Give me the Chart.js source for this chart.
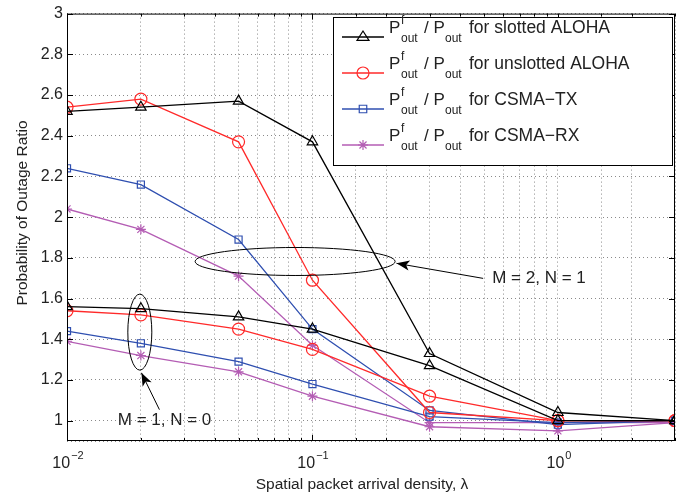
<!DOCTYPE html>
<html>
<head>
<meta charset="utf-8">
<script src="https://cdn.jsdelivr.net/npm/chart.js@4.4.1/dist/chart.umd.min.js"></script>
<style>
  html, body { margin: 0; padding: 0; background: #fff; }
</style>
</head>
<body>
<canvas id="outageChart" width="676" height="495"></canvas>
<script>
// ── Data ─────────────────────────────────────────
const lambda = [0.01, 0.02, 0.05, 0.1, 0.3, 1, 3];

// M = 2, N = 1
const slottedM2   = [2.52, 2.54, 2.57, 2.37, 1.33, 1.04, 1.00];
const unslottedM2 = [2.54, 2.58, 2.37, 1.69, 1.04, 1.00, 1.00];
const csmaTxM2    = [2.24, 2.16, 1.89, 1.45, 1.05, 0.98, 1.00];
const csmaRxM2    = [2.04, 1.94, 1.71, 1.37, 0.99, 0.99, 0.99];

// M = 1, N = 0
const slottedM1   = [1.56, 1.55, 1.51, 1.45, 1.27, 1.00, 1.00];
const unslottedM1 = [1.54, 1.52, 1.45, 1.35, 1.12, 1.00, 1.00];
const csmaTxM1    = [1.44, 1.38, 1.29, 1.18, 1.02, 0.99, 1.00];
const csmaRxM1    = [1.39, 1.32, 1.24, 1.12, 0.97, 0.95, 0.99];

const legendNames = ['slotted ALOHA', 'unslotted ALOHA', 'CSMA\u2212TX', 'CSMA\u2212RX'];
const yTicks = [1, 1.2, 1.4, 1.6, 1.8, 2, 2.2, 2.4, 2.6, 2.8, 3];

const FONT = "'Liberation Sans', Arial, Helvetica, sans-serif";

const STYLE = [
  { color: '#000000', marker: 'triangle', r: 6 },
  { color: '#ff2a2a', marker: 'circle',   r: 6 },
  { color: '#2f4fb0', marker: 'rect',     r: 5 },
  { color: '#b45db4', marker: 'star',     r: 5 },
];

const series = [
  [slottedM2, slottedM1],
  [unslottedM2, unslottedM1],
  [csmaTxM2, csmaTxM1],
  [csmaRxM2, csmaRxM1],
];

const toPoints = (vals) => lambda.map((l, i) => ({ x: l, y: vals[i] }));

const datasets = [];
series.forEach((pair, k) => {
  pair.forEach((vals) => {
    datasets.push({
      data: toPoints(vals),
      borderColor: STYLE[k].color,
      backgroundColor: 'transparent',
      borderWidth: 1.3,
      pointStyle: STYLE[k].marker,
      pointRadius: STYLE[k].r,
      pointBorderWidth: 1.2,
      pointBorderColor: STYLE[k].color,
      pointBackgroundColor: 'transparent',
      tension: 0,
    });
  });
});

// ── Annotations (positions in data units) ────────
const notes = [
  { ellipse: { x: 0.085, y: 1.782, rx: 100, ry: 14 },
    arrow: { from: [0.496, 1.699], to: [0.220, 1.773] },
    text: { x: 0.540, y: 1.675, label: 'M = 2, N = 1' } },
  { ellipse: { x: 0.0198, y: 1.435, rx: 12, ry: 38 },
    arrow: { from: [0.0238, 1.054], to: [0.0201, 1.235] },
    text: { x: 0.0161, y: 0.978, label: 'M = 1, N = 0' } },
];

// ── Helpers ──────────────────────────────────────
const drawMarker = (ctx, type, x, y, r, color) => {
  ctx.save();
  ctx.strokeStyle = color;
  ctx.lineWidth = 1.2;
  ctx.beginPath();
  if (type === 'triangle') {
    ctx.moveTo(x, y - r);
    ctx.lineTo(x - r, y + r * 0.55);
    ctx.lineTo(x + r, y + r * 0.55);
    ctx.closePath();
  } else if (type === 'circle') {
    ctx.arc(x, y, r, 0, Math.PI * 2);
  } else if (type === 'rect') {
    const s = r * 0.75;
    ctx.rect(x - s, y - s, s * 2, s * 2);
  } else if (type === 'star') {
    for (let a = 0; a < 4; a++) {
      const ang = a * Math.PI / 4;
      ctx.moveTo(x - Math.cos(ang) * r, y - Math.sin(ang) * r);
      ctx.lineTo(x + Math.cos(ang) * r, y + Math.sin(ang) * r);
    }
  }
  ctx.stroke();
  ctx.restore();
};

const seg = (ctx, x1, y1, x2, y2) => {
  ctx.beginPath(); ctx.moveTo(x1, y1); ctx.lineTo(x2, y2); ctx.stroke();
};

const arrow = (ctx, x1, y1, x2, y2) => {
  const ang = Math.atan2(y2 - y1, x2 - x1);
  const len = 13, wid = 5;
  seg(ctx, x1, y1, x2, y2);
  ctx.beginPath();
  ctx.moveTo(x2, y2);
  ctx.lineTo(x2 - len * Math.cos(ang) + wid * Math.sin(ang), y2 - len * Math.sin(ang) - wid * Math.cos(ang));
  ctx.lineTo(x2 - len * 0.75 * Math.cos(ang), y2 - len * 0.75 * Math.sin(ang));
  ctx.lineTo(x2 - len * Math.cos(ang) - wid * Math.sin(ang), y2 - len * Math.sin(ang) + wid * Math.cos(ang));
  ctx.closePath();
  ctx.fill();
};

// ── Overlay plugin: frame, ticks, labels, legend, notes ──
const overlay = {
  id: 'overlay',
  afterDraw(chart) {
    const { ctx, chartArea: a, scales: { x, y } } = chart;
    ctx.save();
    ctx.strokeStyle = '#000';
    ctx.fillStyle = '#222';
    ctx.lineWidth = 1;

    // frame
    ctx.strokeRect(a.left + 0.5, a.top + 0.5, a.right - a.left - 1, a.bottom - a.top - 1);

    // x ticks + decade labels
    x.ticks.forEach(t => {
      const px = Math.round(x.getPixelForValue(t.value)) + 0.5;
      const e = Math.log10(t.value);
      const major = Math.abs(e - Math.round(e)) < 1e-9;
      const len = major ? 6 : 3;
      seg(ctx, px, a.bottom, px, a.bottom - len);
      seg(ctx, px, a.top, px, a.top + len);
      if (major) {
        const exp = String(Math.round(e)).replace('-', '\u2212');
        ctx.font = `16px ${FONT}`;
        const w1 = ctx.measureText('10').width;
        ctx.font = `11px ${FONT}`;
        const w2 = ctx.measureText(exp).width;
        const x0 = px - (w1 + w2) / 2;
        ctx.textAlign = 'left';
        ctx.textBaseline = 'alphabetic';
        ctx.font = `16px ${FONT}`;
        ctx.fillText('10', x0, 468);
        ctx.font = `11px ${FONT}`;
        ctx.fillText(exp, x0 + w1 + 1, 459);
      }
    });

    // y ticks (both sides)
    yTicks.forEach(v => {
      const py = Math.round(y.getPixelForValue(v)) + 0.5;
      seg(ctx, a.left, py, a.left + 6, py);
      seg(ctx, a.right, py, a.right - 6, py);
    });

    // axis titles
    ctx.font = `15.5px ${FONT}`;
    ctx.textAlign = 'center';
    ctx.textBaseline = 'alphabetic';
    ctx.fillText('Spatial packet arrival density, \u03bb', 362, 489);
    ctx.save();
    ctx.translate(27, 213);
    ctx.rotate(-Math.PI / 2);
    ctx.fillText('Probability of Outage Ratio', 0, 0);
    ctx.restore();

    // annotations
    ctx.strokeStyle = '#000';
    ctx.fillStyle = '#000';
    notes.forEach(n => {
      const cx = x.getPixelForValue(n.ellipse.x), cy = y.getPixelForValue(n.ellipse.y);
      ctx.beginPath();
      ctx.ellipse(cx, cy, n.ellipse.rx, n.ellipse.ry, 0, 0, Math.PI * 2);
      ctx.stroke();
      arrow(ctx,
        x.getPixelForValue(n.arrow.from[0]), y.getPixelForValue(n.arrow.from[1]),
        x.getPixelForValue(n.arrow.to[0]), y.getPixelForValue(n.arrow.to[1]));
      ctx.fillStyle = '#222';
      ctx.font = `17px ${FONT}`;
      ctx.textAlign = 'left';
      ctx.fillText(n.text.label, x.getPixelForValue(n.text.x), y.getPixelForValue(n.text.y));
      ctx.fillStyle = '#000';
    });

    // legend
    const L = { left: 333, top: 17, right: 672, bottom: 165 };
    ctx.fillStyle = '#fff';
    ctx.fillRect(L.left, L.top, L.right - L.left, L.bottom - L.top);
    ctx.strokeStyle = '#000';
    ctx.strokeRect(L.left + 0.5, L.top + 0.5, L.right - L.left, L.bottom - L.top);
    legendNames.forEach((name, i) => {
      const ry = 37 + i * 36;
      ctx.strokeStyle = STYLE[i].color;
      ctx.lineWidth = 1.3;
      seg(ctx, 342, ry, 384, ry);
      drawMarker(ctx, STYLE[i].marker, 363, ry, STYLE[i].r, STYLE[i].color);
      ctx.fillStyle = '#222';
      ctx.textAlign = 'left';
      const base = ry - 4;
      ctx.font = `17px ${FONT}`;
      ctx.fillText('P', 389, base);
      ctx.font = `12px ${FONT}`;
      ctx.fillText('f', 401, base - 9);
      ctx.fillText('out', 401, base + 9);
      ctx.font = `17px ${FONT}`;
      ctx.fillText('/ P', 424, base);
      ctx.font = `12px ${FONT}`;
      ctx.fillText('out', 445, base + 9);
      ctx.font = `17.5px ${FONT}`;
      ctx.fillText('for ' + name, 469, base);
    });

    ctx.restore();
  },
};

// ── Chart ────────────────────────────────────────
new Chart(document.getElementById('outageChart'), {
  type: 'line',
  data: { datasets },
  plugins: [overlay],
  options: {
    responsive: false,
    animation: false,
    layout: { autoPadding: false, padding: { top: 12, right: 1, left: 0, bottom: 0 } },
    plugins: { legend: { display: false }, tooltip: { enabled: false } },
    scales: {
      x: {
        type: 'logarithmic',
        min: 0.01,
        max: 3,
        ticks: { display: false, autoSkip: false },
        grid: { color: '#8a8a8a', lineWidth: 1, drawTicks: false },
        border: { display: false, dash: [1, 3] },
        afterFit: (s) => { s.height = 54; },
      },
      y: {
        min: 0.9,
        max: 3,
        ticks: {
          stepSize: 0.2,
          padding: 4,
          color: '#222',
          font: { size: 16, family: FONT },
          callback: (v) => (v < 0.95 ? '' : String(+v.toFixed(1))),
        },
        grid: { color: '#8a8a8a', lineWidth: 1, drawTicks: false },
        border: { display: false, dash: [1, 3] },
        afterFit: (s) => { s.width = 67; },
      },
    },
  },
});
</script>
</body>
</html>
